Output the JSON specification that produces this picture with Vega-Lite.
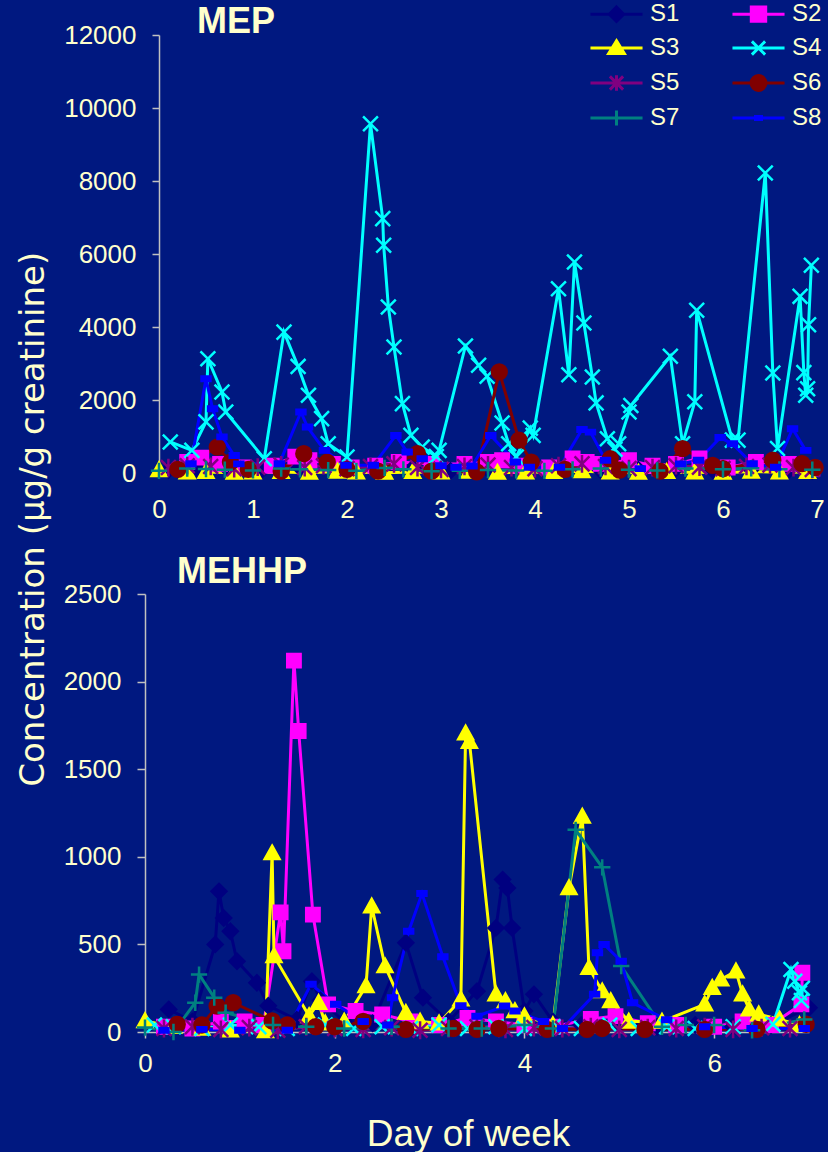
{
  "$schema": "https://vega.github.io/schema/vega-lite/v6.json",
  "background": "#001880",
  "padding": {"left": 17, "top": 0, "right": 0, "bottom": 0},
  "title": {"text": "Concentration (µg/g creatinine)", "orient": "left", "anchor": "middle", "fontSize": 34, "fontWeight": "normal", "color": "#FFFFCC", "font": "DejaVu Sans", "offset": 12, "dx": 57},
  "config": {
    "font": "Liberation Sans",
    "view": {"stroke": null},
    "axis": {"grid": false, "domainColor": "#C0C0C0", "domainWidth": 1.5, "tickColor": "#C0C0C0", "tickWidth": 1.5, "labelColor": "#FFFFCC", "labelFontSize": 26, "labelFont": "Liberation Sans", "titleColor": "#FFFFCC", "titleFont": "Liberation Sans", "titleFontWeight": "normal", "format": "d", "labelFlush": false},
    "title": {"color": "#FFFFCC", "font": "Liberation Sans"}
  },
  "spacing": 32,
  "datasets": {
    "mep": [
      {"s":"S1","d":0.1,"v":80},{"s":"S1","d":0.4,"v":120},{"s":"S1","d":0.75,"v":60},{"s":"S1","d":1.1,"v":100},{"s":"S1","d":1.5,"v":150},{"s":"S1","d":1.9,"v":70},{"s":"S1","d":2.3,"v":90},{"s":"S1","d":2.7,"v":130},{"s":"S1","d":3.1,"v":60},{"s":"S1","d":3.5,"v":110},{"s":"S1","d":3.9,"v":80},{"s":"S1","d":4.3,"v":140},{"s":"S1","d":4.7,"v":70},{"s":"S1","d":5.1,"v":90},{"s":"S1","d":5.5,"v":120},{"s":"S1","d":5.9,"v":60},{"s":"S1","d":6.3,"v":100},{"s":"S1","d":6.7,"v":80},{"s":"S1","d":6.95,"v":50},
      {"s":"S2","d":0.3,"v":300},{"s":"S2","d":0.45,"v":420},{"s":"S2","d":0.65,"v":250},{"s":"S2","d":0.9,"v":150},{"s":"S2","d":1.2,"v":200},{"s":"S2","d":1.45,"v":450},{"s":"S2","d":1.6,"v":350},{"s":"S2","d":1.85,"v":250},{"s":"S2","d":2.05,"v":150},{"s":"S2","d":2.3,"v":200},{"s":"S2","d":2.55,"v":300},{"s":"S2","d":2.9,"v":250},{"s":"S2","d":3.25,"v":250},{"s":"S2","d":3.5,"v":300},{"s":"S2","d":3.65,"v":350},{"s":"S2","d":3.85,"v":200},{"s":"S2","d":4.15,"v":150},{"s":"S2","d":4.4,"v":400},{"s":"S2","d":4.55,"v":300},{"s":"S2","d":4.7,"v":250},{"s":"S2","d":5.0,"v":350},{"s":"S2","d":5.25,"v":200},{"s":"S2","d":5.5,"v":250},{"s":"S2","d":5.75,"v":400},{"s":"S2","d":6.05,"v":150},{"s":"S2","d":6.35,"v":300},{"s":"S2","d":6.7,"v":250},{"s":"S2","d":6.95,"v":120},
      {"s":"S3","d":0.0,"v":80},{"s":"S3","d":0.3,"v":20},{"s":"S3","d":0.5,"v":30},{"s":"S3","d":0.8,"v":10},{"s":"S3","d":1.0,"v":20},{"s":"S3","d":1.3,"v":30},{"s":"S3","d":1.6,"v":10},{"s":"S3","d":1.9,"v":40},{"s":"S3","d":2.1,"v":20},{"s":"S3","d":2.4,"v":10},{"s":"S3","d":2.7,"v":30},{"s":"S3","d":3.0,"v":20},{"s":"S3","d":3.3,"v":40},{"s":"S3","d":3.6,"v":10},{"s":"S3","d":3.9,"v":20},{"s":"S3","d":4.2,"v":30},{"s":"S3","d":4.5,"v":50},{"s":"S3","d":4.8,"v":20},{"s":"S3","d":5.1,"v":10},{"s":"S3","d":5.4,"v":30},{"s":"S3","d":5.7,"v":20},{"s":"S3","d":6.0,"v":10},{"s":"S3","d":6.3,"v":40},{"s":"S3","d":6.6,"v":20},{"s":"S3","d":6.9,"v":30},
      {"s":"S4","d":0.12,"v":850},{"s":"S4","d":0.35,"v":620},{"s":"S4","d":0.5,"v":1400},{"s":"S4","d":0.52,"v":3130},{"s":"S4","d":0.67,"v":2220},{"s":"S4","d":0.71,"v":1670},{"s":"S4","d":1.12,"v":390},{"s":"S4","d":1.33,"v":3860},{"s":"S4","d":1.48,"v":2920},{"s":"S4","d":1.59,"v":2130},{"s":"S4","d":1.73,"v":1490},{"s":"S4","d":1.8,"v":800},{"s":"S4","d":2.0,"v":440},{"s":"S4","d":2.25,"v":9570},{"s":"S4","d":2.38,"v":6970},{"s":"S4","d":2.39,"v":6240},{"s":"S4","d":2.44,"v":4550},{"s":"S4","d":2.5,"v":3450},{"s":"S4","d":2.59,"v":1900},{"s":"S4","d":2.68,"v":1030},{"s":"S4","d":2.8,"v":710},{"s":"S4","d":2.95,"v":450},{"s":"S4","d":2.98,"v":620},{"s":"S4","d":3.26,"v":3480},{"s":"S4","d":3.4,"v":2950},{"s":"S4","d":3.49,"v":2650},{"s":"S4","d":3.65,"v":1370},{"s":"S4","d":3.72,"v":800},{"s":"S4","d":3.8,"v":440},{"s":"S4","d":3.95,"v":1230},{"s":"S4","d":3.98,"v":1030},{"s":"S4","d":4.25,"v":5050},{"s":"S4","d":4.36,"v":2690},{"s":"S4","d":4.42,"v":5780},{"s":"S4","d":4.52,"v":4110},{"s":"S4","d":4.61,"v":2630},{"s":"S4","d":4.65,"v":1920},{"s":"S4","d":4.77,"v":940},{"s":"S4","d":4.85,"v":650},{"s":"S4","d":4.89,"v":800},{"s":"S4","d":5.0,"v":1670},{"s":"S4","d":5.02,"v":1850},{"s":"S4","d":5.44,"v":3200},{"s":"S4","d":5.57,"v":800},{"s":"S4","d":5.7,"v":1950},{"s":"S4","d":5.72,"v":4460},{"s":"S4","d":6.1,"v":900},{"s":"S4","d":6.16,"v":900},{"s":"S4","d":6.45,"v":8220},{"s":"S4","d":6.53,"v":2740},{"s":"S4","d":6.58,"v":670},{"s":"S4","d":6.82,"v":4840},{"s":"S4","d":6.86,"v":2750},{"s":"S4","d":6.88,"v":2130},{"s":"S4","d":6.9,"v":2310},{"s":"S4","d":6.91,"v":4060},{"s":"S4","d":6.94,"v":5690},
      {"s":"S5","d":0.1,"v":150},{"s":"S5","d":0.3,"v":200},{"s":"S5","d":0.55,"v":180},{"s":"S5","d":0.8,"v":120},{"s":"S5","d":1.05,"v":160},{"s":"S5","d":1.3,"v":220},{"s":"S5","d":1.55,"v":150},{"s":"S5","d":1.75,"v":200},{"s":"S5","d":2.0,"v":120},{"s":"S5","d":2.25,"v":180},{"s":"S5","d":2.5,"v":250},{"s":"S5","d":2.75,"v":150},{"s":"S5","d":3.0,"v":100},{"s":"S5","d":3.25,"v":180},{"s":"S5","d":3.5,"v":220},{"s":"S5","d":3.75,"v":150},{"s":"S5","d":4.0,"v":120},{"s":"S5","d":4.25,"v":200},{"s":"S5","d":4.5,"v":250},{"s":"S5","d":4.75,"v":180},{"s":"S5","d":5.0,"v":120},{"s":"S5","d":5.25,"v":150},{"s":"S5","d":5.5,"v":200},{"s":"S5","d":5.75,"v":160},{"s":"S5","d":6.0,"v":120},{"s":"S5","d":6.25,"v":180},{"s":"S5","d":6.5,"v":220},{"s":"S5","d":6.75,"v":150},{"s":"S5","d":6.95,"v":100},
      {"s":"S6","d":0.2,"v":100},{"s":"S6","d":0.62,"v":710},{"s":"S6","d":0.76,"v":300},{"s":"S6","d":0.95,"v":100},{"s":"S6","d":1.3,"v":50},{"s":"S6","d":1.54,"v":530},{"s":"S6","d":1.79,"v":300},{"s":"S6","d":2.0,"v":100},{"s":"S6","d":2.33,"v":50},{"s":"S6","d":2.75,"v":530},{"s":"S6","d":2.9,"v":50},{"s":"S6","d":3.38,"v":30},{"s":"S6","d":3.62,"v":2770},{"s":"S6","d":3.83,"v":900},{"s":"S6","d":3.96,"v":300},{"s":"S6","d":4.32,"v":100},{"s":"S6","d":4.8,"v":390},{"s":"S6","d":4.9,"v":80},{"s":"S6","d":5.33,"v":50},{"s":"S6","d":5.57,"v":670},{"s":"S6","d":5.89,"v":210},{"s":"S6","d":6.0,"v":120},{"s":"S6","d":6.53,"v":350},{"s":"S6","d":6.84,"v":255},{"s":"S6","d":6.98,"v":150},
      {"s":"S7","d":0.0,"v":60},{"s":"S7","d":0.3,"v":120},{"s":"S7","d":0.5,"v":110},{"s":"S7","d":0.7,"v":90},{"s":"S7","d":1.0,"v":70},{"s":"S7","d":1.3,"v":120},{"s":"S7","d":1.5,"v":100},{"s":"S7","d":1.8,"v":80},{"s":"S7","d":2.1,"v":60},{"s":"S7","d":2.4,"v":140},{"s":"S7","d":2.6,"v":100},{"s":"S7","d":2.9,"v":50},{"s":"S7","d":3.2,"v":60},{"s":"S7","d":3.5,"v":80},{"s":"S7","d":3.8,"v":70},{"s":"S7","d":4.1,"v":60},{"s":"S7","d":4.4,"v":100},{"s":"S7","d":4.7,"v":120},{"s":"S7","d":5.0,"v":90},{"s":"S7","d":5.3,"v":70},{"s":"S7","d":5.6,"v":120},{"s":"S7","d":6.0,"v":100},{"s":"S7","d":6.3,"v":130},{"s":"S7","d":6.6,"v":100},{"s":"S7","d":6.95,"v":90},
      {"s":"S8","d":0.34,"v":255},{"s":"S8","d":0.5,"v":2580},{"s":"S8","d":0.57,"v":1760},{"s":"S8","d":0.67,"v":990},{"s":"S8","d":0.8,"v":480},{"s":"S8","d":0.85,"v":250},{"s":"S8","d":1.28,"v":255},{"s":"S8","d":1.51,"v":1670},{"s":"S8","d":1.58,"v":1260},{"s":"S8","d":1.76,"v":620},{"s":"S8","d":1.99,"v":210},{"s":"S8","d":2.28,"v":210},{"s":"S8","d":2.52,"v":1030},{"s":"S8","d":2.64,"v":575},{"s":"S8","d":2.8,"v":390},{"s":"S8","d":3.0,"v":200},{"s":"S8","d":3.16,"v":160},{"s":"S8","d":3.33,"v":190},{"s":"S8","d":3.53,"v":1030},{"s":"S8","d":3.79,"v":300},{"s":"S8","d":3.94,"v":160},{"s":"S8","d":4.26,"v":160},{"s":"S8","d":4.5,"v":1190},{"s":"S8","d":4.59,"v":1120},{"s":"S8","d":4.75,"v":350},{"s":"S8","d":5.12,"v":120},{"s":"S8","d":5.55,"v":250},{"s":"S8","d":5.74,"v":350},{"s":"S8","d":5.97,"v":970},{"s":"S8","d":6.1,"v":800},{"s":"S8","d":6.31,"v":255},{"s":"S8","d":6.56,"v":160},{"s":"S8","d":6.74,"v":1210},{"s":"S8","d":6.88,"v":620}
    ],
    "mehhp": [
      {"s":"S1","d":0.25,"v":129},{"s":"S1","d":0.5,"v":60},{"s":"S1","d":0.74,"v":500},{"s":"S1","d":0.78,"v":803},{"s":"S1","d":0.83,"v":651},{"s":"S1","d":0.9,"v":575},{"s":"S1","d":0.97,"v":404},{"s":"S1","d":1.18,"v":281},{"s":"S1","d":1.3,"v":150},{"s":"S1","d":1.6,"v":70},{"s":"S1","d":1.76,"v":290},{"s":"S1","d":1.85,"v":180},{"s":"S1","d":2.1,"v":60},{"s":"S1","d":2.4,"v":50},{"s":"S1","d":2.75,"v":509},{"s":"S1","d":2.93,"v":196},{"s":"S1","d":3.2,"v":60},{"s":"S1","d":3.5,"v":233},{"s":"S1","d":3.7,"v":594},{"s":"S1","d":3.77,"v":870},{"s":"S1","d":3.82,"v":822},{"s":"S1","d":3.87,"v":594},{"s":"S1","d":4.0,"v":120},{"s":"S1","d":4.1,"v":215},{"s":"S1","d":4.3,"v":60},{"s":"S1","d":4.6,"v":40},{"s":"S1","d":5.0,"v":50},{"s":"S1","d":5.4,"v":30},{"s":"S1","d":5.8,"v":40},{"s":"S1","d":6.2,"v":30},{"s":"S1","d":6.6,"v":40},{"s":"S1","d":7.0,"v":138},
      {"s":"S2","d":0.2,"v":30},{"s":"S2","d":0.5,"v":20},{"s":"S2","d":0.8,"v":60},{"s":"S2","d":1.05,"v":60},{"s":"S2","d":1.25,"v":40},{"s":"S2","d":1.43,"v":683},{"s":"S2","d":1.46,"v":461},{"s":"S2","d":1.57,"v":2120},{"s":"S2","d":1.62,"v":1718},{"s":"S2","d":1.77,"v":670},{"s":"S2","d":1.93,"v":158},{"s":"S2","d":2.22,"v":120},{"s":"S2","d":2.5,"v":100},{"s":"S2","d":2.8,"v":60},{"s":"S2","d":3.1,"v":40},{"s":"S2","d":3.4,"v":80},{"s":"S2","d":3.7,"v":60},{"s":"S2","d":4.0,"v":40},{"s":"S2","d":4.3,"v":30},{"s":"S2","d":4.7,"v":74},{"s":"S2","d":4.96,"v":91},{"s":"S2","d":5.3,"v":50},{"s":"S2","d":5.6,"v":40},{"s":"S2","d":6.0,"v":30},{"s":"S2","d":6.3,"v":60},{"s":"S2","d":6.6,"v":40},{"s":"S2","d":6.92,"v":158},{"s":"S2","d":6.93,"v":338},
      {"s":"S3","d":0.0,"v":63},{"s":"S3","d":0.3,"v":30},{"s":"S3","d":0.6,"v":20},{"s":"S3","d":0.9,"v":10},{"s":"S3","d":1.27,"v":5},{"s":"S3","d":1.34,"v":1021},{"s":"S3","d":1.36,"v":433},{"s":"S3","d":1.73,"v":91},{"s":"S3","d":1.83,"v":167},{"s":"S3","d":1.9,"v":50},{"s":"S3","d":2.1,"v":60},{"s":"S3","d":2.33,"v":262},{"s":"S3","d":2.39,"v":718},{"s":"S3","d":2.53,"v":376},{"s":"S3","d":2.75,"v":110},{"s":"S3","d":2.9,"v":60},{"s":"S3","d":3.1,"v":50},{"s":"S3","d":3.33,"v":186},{"s":"S3","d":3.38,"v":1705},{"s":"S3","d":3.42,"v":1657},{"s":"S3","d":3.7,"v":215},{"s":"S3","d":3.8,"v":177},{"s":"S3","d":3.9,"v":120},{"s":"S3","d":4.0,"v":90},{"s":"S3","d":4.3,"v":40},{"s":"S3","d":4.47,"v":822},{"s":"S3","d":4.61,"v":1230},{"s":"S3","d":4.68,"v":366},{"s":"S3","d":4.82,"v":233},{"s":"S3","d":4.91,"v":177},{"s":"S3","d":5.1,"v":60},{"s":"S3","d":5.45,"v":60},{"s":"S3","d":5.9,"v":158},{"s":"S3","d":5.98,"v":252},{"s":"S3","d":6.07,"v":300},{"s":"S3","d":6.23,"v":347},{"s":"S3","d":6.3,"v":215},{"s":"S3","d":6.37,"v":129},{"s":"S3","d":6.47,"v":101},{"s":"S3","d":6.69,"v":72},{"s":"S3","d":6.9,"v":40},
      {"s":"S4","d":0.1,"v":40},{"s":"S4","d":0.3,"v":30},{"s":"S4","d":0.6,"v":20},{"s":"S4","d":0.9,"v":40},{"s":"S4","d":1.2,"v":30},{"s":"S4","d":1.5,"v":20},{"s":"S4","d":1.9,"v":40},{"s":"S4","d":2.2,"v":20},{"s":"S4","d":2.5,"v":30},{"s":"S4","d":2.8,"v":20},{"s":"S4","d":3.1,"v":40},{"s":"S4","d":3.4,"v":20},{"s":"S4","d":3.7,"v":30},{"s":"S4","d":4.0,"v":20},{"s":"S4","d":4.3,"v":30},{"s":"S4","d":4.6,"v":20},{"s":"S4","d":4.9,"v":40},{"s":"S4","d":5.2,"v":20},{"s":"S4","d":5.5,"v":30},{"s":"S4","d":5.8,"v":20},{"s":"S4","d":6.2,"v":30},{"s":"S4","d":6.62,"v":44},{"s":"S4","d":6.81,"v":357},{"s":"S4","d":6.85,"v":290},{"s":"S4","d":6.9,"v":224},{"s":"S4","d":6.92,"v":180},{"s":"S4","d":6.93,"v":250},
      {"s":"S5","d":0.2,"v":20},{"s":"S5","d":0.5,"v":30},{"s":"S5","d":0.8,"v":15},{"s":"S5","d":1.1,"v":25},{"s":"S5","d":1.4,"v":10},{"s":"S5","d":1.7,"v":30},{"s":"S5","d":2.0,"v":20},{"s":"S5","d":2.3,"v":15},{"s":"S5","d":2.6,"v":25},{"s":"S5","d":2.9,"v":10},{"s":"S5","d":3.2,"v":20},{"s":"S5","d":3.5,"v":30},{"s":"S5","d":3.8,"v":15},{"s":"S5","d":4.1,"v":25},{"s":"S5","d":4.4,"v":20},{"s":"S5","d":4.7,"v":30},{"s":"S5","d":5.0,"v":15},{"s":"S5","d":5.3,"v":25},{"s":"S5","d":5.6,"v":20},{"s":"S5","d":5.9,"v":30},{"s":"S5","d":6.2,"v":15},{"s":"S5","d":6.5,"v":25},{"s":"S5","d":6.8,"v":20},
      {"s":"S6","d":0.34,"v":44},{"s":"S6","d":0.6,"v":40},{"s":"S6","d":0.76,"v":148},{"s":"S6","d":0.93,"v":167},{"s":"S6","d":1.34,"v":63},{"s":"S6","d":1.5,"v":40},{"s":"S6","d":1.8,"v":30},{"s":"S6","d":2.0,"v":30},{"s":"S6","d":2.3,"v":60},{"s":"S6","d":2.75,"v":15},{"s":"S6","d":3.25,"v":20},{"s":"S6","d":3.5,"v":15},{"s":"S6","d":3.73,"v":20},{"s":"S6","d":4.24,"v":15},{"s":"S6","d":4.66,"v":15},{"s":"S6","d":4.82,"v":20},{"s":"S6","d":5.27,"v":15},{"s":"S6","d":5.9,"v":15},{"s":"S6","d":6.45,"v":15},{"s":"S6","d":6.97,"v":44},
      {"s":"S7","d":0.0,"v":25},{"s":"S7","d":0.3,"v":0},{"s":"S7","d":0.53,"v":167},{"s":"S7","d":0.57,"v":328},{"s":"S7","d":0.73,"v":196},{"s":"S7","d":0.85,"v":110},{"s":"S7","d":1.35,"v":40},{"s":"S7","d":1.7,"v":30},{"s":"S7","d":2.1,"v":20},{"s":"S7","d":2.6,"v":30},{"s":"S7","d":3.2,"v":20},{"s":"S7","d":3.55,"v":20},{"s":"S7","d":4.0,"v":40},{"s":"S7","d":4.3,"v":20},{"s":"S7","d":4.54,"v":1154},{"s":"S7","d":4.82,"v":940},{"s":"S7","d":5.02,"v":376},{"s":"S7","d":5.45,"v":30},{"s":"S7","d":5.7,"v":40},{"s":"S7","d":6.0,"v":40},{"s":"S7","d":6.4,"v":10},{"s":"S7","d":6.95,"v":72},
      {"s":"S8","d":0.2,"v":10},{"s":"S8","d":0.6,"v":15},{"s":"S8","d":1.0,"v":10},{"s":"S8","d":1.5,"v":10},{"s":"S8","d":1.75,"v":272},{"s":"S8","d":2.01,"v":158},{"s":"S8","d":2.3,"v":60},{"s":"S8","d":2.56,"v":40},{"s":"S8","d":2.61,"v":196},{"s":"S8","d":2.78,"v":575},{"s":"S8","d":2.92,"v":790},{"s":"S8","d":3.14,"v":430},{"s":"S8","d":3.33,"v":150},{"s":"S8","d":3.5,"v":90},{"s":"S8","d":3.79,"v":148},{"s":"S8","d":3.9,"v":120},{"s":"S8","d":4.2,"v":60},{"s":"S8","d":4.4,"v":20},{"s":"S8","d":4.74,"v":215},{"s":"S8","d":4.77,"v":452},{"s":"S8","d":4.84,"v":500},{"s":"S8","d":5.02,"v":404},{"s":"S8","d":5.14,"v":167},{"s":"S8","d":5.5,"v":70},{"s":"S8","d":5.9,"v":30},{"s":"S8","d":6.4,"v":20},{"s":"S8","d":6.95,"v":20}
    ]
  },
  "vconcat": [
    {
      "width": 672,
      "height": 438,
      "title": {"text": "MEP", "anchor": "start", "frame": "group", "dx": 52, "offset": -19, "fontSize": 36, "fontWeight": "bold", "color": "#FFFFCC"},
      "data": {"name": "mep"},
      "encoding": {
        "x": {"field": "d", "type": "quantitative", "scale": {"domain": [-0.1489, 7], "nice": false, "zero": false}, "axis": {"title": null, "values": [0,1,2,3,4,5,6,7], "domain": false, "ticks": false, "labelPadding": 23}},
        "y": {"field": "v", "type": "quantitative", "scale": {"domain": [0, 12000], "nice": false}, "axis": {"title": null, "values": [0,2000,4000,6000,8000,10000,12000], "offset": -14, "tickSize": 7, "labelPadding": 16}},
        "color": {"field": "s", "type": "nominal", "scale": {"domain": ["S1","S2","S3","S4","S5","S6","S7","S8"], "range": ["#000080","#FF00FF","#FFFF00","#00FFFF","#800080","#800000","#008080","#0000FF"]}}
      },
      "layer": [
        {"mark": {"type": "line", "strokeWidth": 3}},
        {"transform": [{"filter": "datum.s === 'S1'"}], "mark": {"type": "point", "shape": "M0,-1L1,0L0,1L-1,0Z", "filled": true, "size": 220, "stroke": "#000080", "strokeWidth": 2.5, "opacity": 1}},
        {"transform": [{"filter": "datum.s === 'S2'"}], "mark": {"type": "point", "shape": "M-0.9,-0.9L0.9,-0.9L0.9,0.9L-0.9,0.9Z", "filled": true, "size": 220, "stroke": "#FF00FF", "strokeWidth": 2.5, "opacity": 1}},
        {"transform": [{"filter": "datum.s === 'S3'"}], "mark": {"type": "point", "shape": "M0,-1L1,0.8L-1,0.8Z", "filled": true, "size": 220, "stroke": "#FFFF00", "strokeWidth": 2.5, "opacity": 1}},
        {"transform": [{"filter": "datum.s === 'S4'"}], "mark": {"type": "point", "shape": "M-1,-1L1,1M-1,1L1,-1", "filled": true, "size": 220, "stroke": "#00FFFF", "strokeWidth": 2.5, "opacity": 1}},
        {"transform": [{"filter": "datum.s === 'S5'"}], "mark": {"type": "point", "shape": "M-1,-1L1,1M-1,1L1,-1M0,-1.2L0,1.2", "filled": true, "size": 220, "stroke": "#800080", "strokeWidth": 2.5, "opacity": 1}},
        {"transform": [{"filter": "datum.s === 'S6'"}], "mark": {"type": "point", "shape": "M-1,0A1,1,0,1,1,1,0A1,1,0,1,1,-1,0Z", "filled": true, "size": 220, "stroke": "#800000", "strokeWidth": 2.5, "opacity": 1}},
        {"transform": [{"filter": "datum.s === 'S7'"}], "mark": {"type": "point", "shape": "M-1.1,0L1.1,0M0,-1.1L0,1.1", "filled": true, "size": 220, "stroke": "#008080", "strokeWidth": 2.5, "opacity": 1}},
        {"transform": [{"filter": "datum.s === 'S8'"}], "mark": {"type": "point", "shape": "M-0.6,-0.3L0.6,-0.3L0.6,0.3L-0.6,0.3Z", "filled": true, "size": 220, "stroke": "#0000FF", "strokeWidth": 2.5, "opacity": 1}},
        {"transform": [{"filter": "datum.v < 0"}],
         "mark": {"type": "point", "filled": true, "strokeWidth": 3, "opacity": 1},
         "encoding": {
           "color": {"field": "s", "type": "nominal",
             "legend": {"title": null, "orient": "none", "legendX": 458, "legendY": -34.5, "columns": 2, "direction": "horizontal", "symbolSize": 576, "symbolStrokeWidth": 3, "symbolOpacity": 1, "labelFontSize": 24, "labelColor": "#FFFFCC", "labelFont": "Liberation Sans", "labelOffset": 20, "columnPadding": 46, "rowPadding": 7}},
           "shape": {"field": "s", "type": "nominal",
             "scale": {"domain": ["S1","S2","S3","S4","S5","S6","S7","S8"], "range": ["M-2.17,0L2.17,0M0,-0.6L0.6,0L0,0.6L-0.6,0Z","M-2.17,0L2.17,0M-0.6,-0.6L0.6,-0.6L0.6,0.6L-0.6,0.6Z","M-2.17,0L2.17,0M0,-0.6L0.65,0.45L-0.65,0.45Z","M-2.17,0L2.17,0M-0.55,-0.55L0.55,0.55M-0.55,0.55L0.55,-0.55","M-2.17,0L2.17,0M-0.55,-0.55L0.55,0.55M-0.55,0.55L0.55,-0.55M0,-0.65L0,0.65","M-2.17,0L2.17,0M-0.62,0A0.62,0.62,0,1,1,0.62,0A0.62,0.62,0,1,1,-0.62,0Z","M-2.17,0L2.17,0M0,-0.62L0,0.62","M-2.17,0L2.17,0M-0.25,-0.12L0.25,-0.12L0.25,0.12L-0.25,0.12Z"]},
             "legend": {"title": null, "orient": "none", "legendX": 458, "legendY": -34.5, "columns": 2, "direction": "horizontal", "symbolSize": 576, "symbolStrokeWidth": 3, "symbolOpacity": 1, "labelFontSize": 24, "labelColor": "#FFFFCC", "labelFont": "Liberation Sans", "labelOffset": 20, "columnPadding": 46, "rowPadding": 7}},
           "stroke": {"field": "s", "type": "nominal", "legend": null, "scale": {"domain": ["S1","S2","S3","S4","S5","S6","S7","S8"], "range": ["#000080","#FF00FF","#FFFF00","#00FFFF","#800080","#800000","#008080","#0000FF"]}}
         }}
      ]
    },
    {
      "width": 664,
      "height": 438,
      "title": {"text": "MEHHP", "anchor": "start", "frame": "group", "dx": 32, "offset": -10, "fontSize": 36, "fontWeight": "bold", "color": "#FFFFCC"},
      "data": {"name": "mehhp"},
      "encoding": {
        "x": {"field": "d", "type": "quantitative", "scale": {"domain": [0, 7], "nice": false}, "axis": {"title": "Day of week", "titleFontSize": 37, "titlePadding": 40, "titleX": 323, "values": [0,2,4,6], "tickSize": 6, "labelPadding": 12}},
        "y": {"field": "v", "type": "quantitative", "scale": {"domain": [0, 2500], "nice": false}, "axis": {"title": null, "values": [0,500,1000,1500,2000,2500], "tickSize": 8, "labelPadding": 16}},
        "color": {"field": "s", "type": "nominal"}
      },
      "layer": [
        {"mark": {"type": "line", "strokeWidth": 3}},
        {"transform": [{"filter": "datum.s === 'S1'"}], "mark": {"type": "point", "shape": "M0,-1L1,0L0,1L-1,0Z", "filled": true, "size": 220, "stroke": "#000080", "strokeWidth": 2.5, "opacity": 1}},
        {"transform": [{"filter": "datum.s === 'S2'"}], "mark": {"type": "point", "shape": "M-0.9,-0.9L0.9,-0.9L0.9,0.9L-0.9,0.9Z", "filled": true, "size": 220, "stroke": "#FF00FF", "strokeWidth": 2.5, "opacity": 1}},
        {"transform": [{"filter": "datum.s === 'S3'"}], "mark": {"type": "point", "shape": "M0,-1L1,0.8L-1,0.8Z", "filled": true, "size": 220, "stroke": "#FFFF00", "strokeWidth": 2.5, "opacity": 1}},
        {"transform": [{"filter": "datum.s === 'S4'"}], "mark": {"type": "point", "shape": "M-1,-1L1,1M-1,1L1,-1", "filled": true, "size": 220, "stroke": "#00FFFF", "strokeWidth": 2.5, "opacity": 1}},
        {"transform": [{"filter": "datum.s === 'S5'"}], "mark": {"type": "point", "shape": "M-1,-1L1,1M-1,1L1,-1M0,-1.2L0,1.2", "filled": true, "size": 220, "stroke": "#800080", "strokeWidth": 2.5, "opacity": 1}},
        {"transform": [{"filter": "datum.s === 'S6'"}], "mark": {"type": "point", "shape": "M-1,0A1,1,0,1,1,1,0A1,1,0,1,1,-1,0Z", "filled": true, "size": 220, "stroke": "#800000", "strokeWidth": 2.5, "opacity": 1}},
        {"transform": [{"filter": "datum.s === 'S7'"}], "mark": {"type": "point", "shape": "M-1.1,0L1.1,0M0,-1.1L0,1.1", "filled": true, "size": 220, "stroke": "#008080", "strokeWidth": 2.5, "opacity": 1}},
        {"transform": [{"filter": "datum.s === 'S8'"}], "mark": {"type": "point", "shape": "M-0.6,-0.3L0.6,-0.3L0.6,0.3L-0.6,0.3Z", "filled": true, "size": 220, "stroke": "#0000FF", "strokeWidth": 2.5, "opacity": 1}}
      ]
    }
  ]
}
